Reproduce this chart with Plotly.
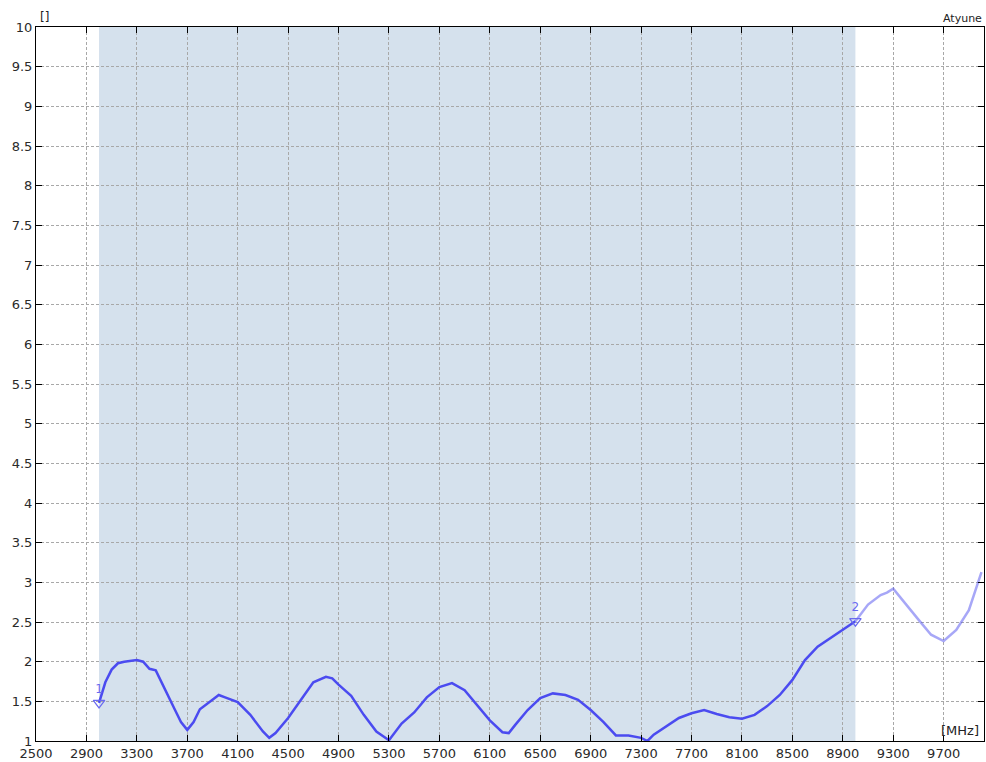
import plotly.graph_objects as go

freq = [3000, 3050, 3100, 3150, 3200, 3300, 3350, 3400, 3450, 3500, 3600, 3650, 3700, 3750, 3800,
        3900, 3950, 4000, 4100, 4200, 4300, 4350, 4400, 4500, 4600, 4700, 4800, 4850, 4900, 5000,
        5100, 5200, 5300, 5400, 5500, 5600, 5700, 5800, 5900, 6000, 6100, 6200, 6250, 6300, 6400,
        6500, 6600, 6700, 6800, 6900, 7000, 7100, 7200, 7300, 7350, 7400, 7500, 7600, 7700, 7800,
        7900, 8000, 8100, 8200, 8300, 8400, 8500, 8600, 8700, 8800, 8900, 9000]
vals = [1.48, 1.74, 1.90, 1.98, 2.00, 2.02, 2.00, 1.91, 1.89, 1.72, 1.40, 1.24, 1.14, 1.24, 1.40,
        1.52, 1.58, 1.55, 1.49, 1.33, 1.12, 1.04, 1.10, 1.29, 1.52, 1.74, 1.81, 1.79, 1.71, 1.57,
        1.33, 1.12, 1.01, 1.22, 1.36, 1.55, 1.68, 1.73, 1.64, 1.45, 1.26, 1.11, 1.10, 1.20, 1.39,
        1.54, 1.60, 1.58, 1.52, 1.39, 1.24, 1.07, 1.07, 1.04, 1.00, 1.08, 1.18, 1.29, 1.35, 1.39,
        1.34, 1.30, 1.28, 1.33, 1.44, 1.58, 1.77, 2.02, 2.19, 2.30, 2.40, 2.51]
freq_out = [9000, 9100, 9200, 9250, 9300, 9400, 9500, 9600, 9700, 9800, 9900, 10000]
vals_out = [2.51, 2.72, 2.84, 2.87, 2.92, 2.72, 2.53, 2.34, 2.26, 2.40, 2.65, 3.13]
marker_f = [3000, 9000]
marker_v = [1.48, 2.51]
marker_lbl = ["1", "2"]
x_ticks = list(range(2500, 10000, 400))
y_ticks = [1 + 0.5 * i for i in range(19)]
band = [3000, 9000]

fig = go.Figure()
fig.add_vrect(x0=band[0], x1=band[1], fillcolor="#d5e1ed", line_width=0, layer="below")
fig.add_trace(go.Scatter(x=freq_out, y=vals_out, mode="lines",
                         line=dict(color="rgba(80,80,240,0.5)", width=2.5), hoverinfo="skip"))
fig.add_trace(go.Scatter(x=freq, y=vals, mode="lines",
                         line=dict(color="#4b4bf0", width=2.5)))
fig.add_trace(go.Scatter(x=marker_f, y=marker_v, mode="markers+text", text=marker_lbl,
                         textposition="top center",
                         textfont=dict(color="#6a6af0", size=12, family="DejaVu Sans"),
                         marker=dict(symbol="triangle-down-open", size=10, color="#6a6af0",
                                     line=dict(width=1.2)),
                         cliponaxis=False))

axis_common = dict(showline=True, linecolor="black", linewidth=1, mirror="ticks",
                   ticks="inside", ticklen=6, tickcolor="black",
                   showgrid=True, gridcolor="#a8a8a8", griddash="3px,2px", gridwidth=1,
                   zeroline=False, tickfont=dict(family="DejaVu Sans", size=13, color="#2a2a2a"))
fig.update_xaxes(range=[2500, 10020], tickvals=x_ticks, **axis_common)
fig.update_yaxes(range=[1, 10], tickvals=y_ticks,
                 ticktext=[("%g" % v) for v in y_ticks], **axis_common)

fig.add_annotation(x=0, y=1, xref="paper", yref="paper", text="[]", showarrow=False,
                   xanchor="left", yanchor="bottom", xshift=2, yshift=1,
                   font=dict(family="DejaVu Sans", size=12, color="#222"))
fig.add_annotation(x=1, y=1, xref="paper", yref="paper", text="Atyune", showarrow=False,
                   xanchor="right", yanchor="bottom", xshift=0, yshift=0,
                   font=dict(family="DejaVu Sans", size=11, color="#222"))
fig.add_annotation(x=1, y=0, xref="paper", yref="paper", text="[MHz]", showarrow=False,
                   xanchor="right", yanchor="bottom", xshift=-3, yshift=1,
                   font=dict(family="DejaVu Sans", size=13, color="#222"))

fig.update_layout(width=986, height=762, margin=dict(l=36, r=2, t=27, b=21),
                  paper_bgcolor="white", plot_bgcolor="white", showlegend=False)
fig.write_html("out.html", config={"displayModeBar": False},
               post_script="document.body.style.margin='0';document.body.style.overflow='hidden';")
